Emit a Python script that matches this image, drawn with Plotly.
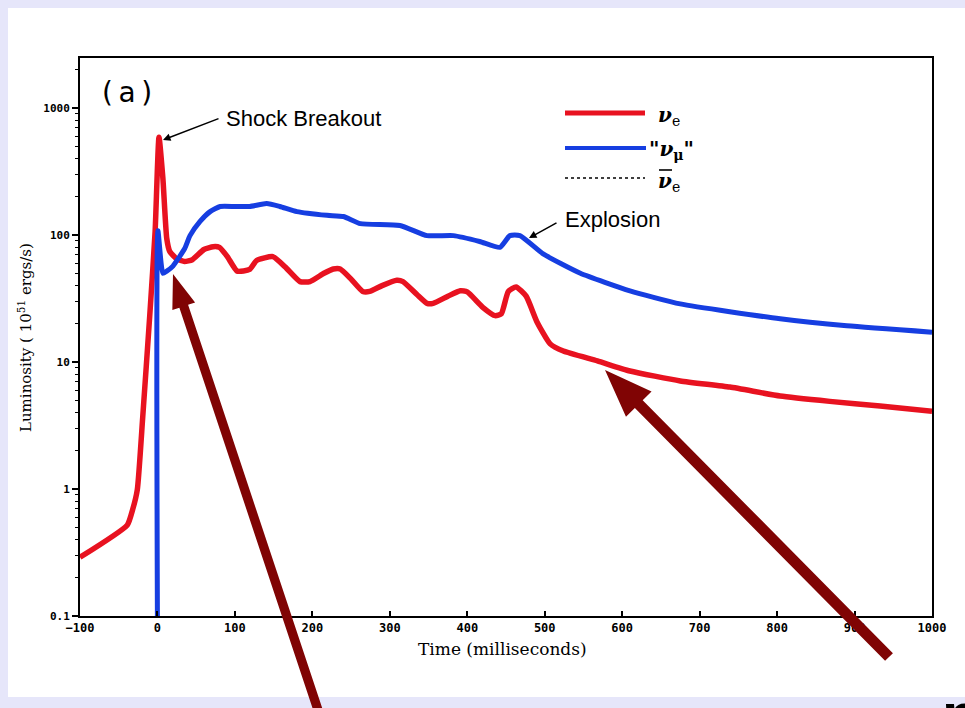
import math
import plotly.graph_objects as go

# ---------------- data ----------------
nue_t = [-100, -39, -32, -26, -19, -10, -3, 2, 7, 12, 16, 25, 35, 45, 60, 72, 80, 90, 103,
         119, 128, 149, 165, 184, 197, 215, 227, 236, 250, 265, 274, 290, 309, 317, 335,
         348, 356, 375, 391, 400, 420, 436, 444, 453, 463, 476, 490, 507, 524, 568,
         610, 675, 739, 804, 868, 933, 1000]
nue_L = [0.29, 0.52, 0.69, 0.99, 3.7, 23, 107, 590, 280, 94, 74, 65, 62, 64, 77, 81, 80, 68, 52,
         53.6, 63, 67.6, 56, 43, 43, 50, 54, 54, 45, 36, 36, 40, 44, 43, 34,
         29, 29, 33, 36.4, 35.7, 27, 23.2, 24, 36, 39, 33, 20.7, 13.9, 12.2, 10.2,
         8.5, 7.1, 6.35, 5.4, 4.9, 4.5, 4.1]

numu_t = [0, 0.6, 7, 12, 20, 35, 42, 55, 68, 81, 100, 119, 141, 158, 180, 219, 240, 262,
          313, 348, 382, 416, 442, 455, 468, 498, 546, 610, 675, 804, 890, 1000]
numu_L = [0.08, 108, 50, 52, 57, 78, 99, 128, 153, 168, 168, 168, 177, 168, 153, 143, 140, 123,
          119, 99, 99, 89, 80, 99, 99, 71, 50, 36.4, 28.7, 21.9, 19.3, 17.2]

x_ticks = [-100, 0, 100, 200, 300, 400, 500, 600, 700, 800, 900, 1000]
y_ticks = [0.1, 1, 10, 100, 1000]
y_tick_text = ["0.1", "1", "10", "100", "1000"]

RED = "rgb(232,18,32)"
BLUE = "rgb(22,62,225)"
DARKRED = "rgb(128,4,4)"

# ---------------- geometry helpers ----------------
W, H = 965, 708
L, R, T, B = 80, 932, 58, 616  # plot area in pixels


def px(xp):
    return (xp - L) / (R - L)


def py(yp):
    return (B - yp) / (B - T)


fig = go.Figure()
fig.add_trace(go.Scatter(x=nue_t, y=nue_L, mode="lines", name="νe",
                         line=dict(color=RED, width=5.5, shape="spline", smoothing=0.5),
                         showlegend=False))
fig.add_trace(go.Scatter(x=numu_t, y=numu_L, mode="lines", name="νμ",
                         line=dict(color=BLUE, width=5, shape="spline", smoothing=0.5),
                         showlegend=False))

minor_vals = [k * 10 ** e for e in range(-1, 4) for k in range(2, 10)]

fig.update_layout(
    width=W, height=H,
    margin=dict(l=L, r=W - R, t=T, b=H - B),
    paper_bgcolor="rgb(230,230,250)",
    plot_bgcolor="white",
    showlegend=False,
    xaxis=dict(range=[-100, 1000], tickvals=x_ticks, ticks="inside", ticklen=5,
               tickwidth=1.5, tickcolor="black", showline=True, linecolor="black",
               linewidth=2, mirror=True, showgrid=False, zeroline=False,
               tickfont=dict(family="DejaVu Sans Mono", size=12, color="black", weight="bold")),
    yaxis=dict(type="log", range=[-1, math.log10(2480)], tickvals=y_ticks, ticktext=y_tick_text,
               ticks="outside", ticklen=6, tickwidth=1.5, tickcolor="black",
               showline=True, linecolor="black", linewidth=2, mirror=True,
               showgrid=False, zeroline=False,
               minor=dict(tickvals=minor_vals, ticks="outside", ticklen=3,
                          tickcolor="black", tickwidth=1, showgrid=False),
               tickfont=dict(family="DejaVu Sans Mono", size=11, color="black", weight="bold")),
)

shapes = []
# white panel
shapes.append(dict(type="rect", xref="paper", yref="paper", layer="below",
                   x0=px(8), x1=px(980), y0=py(697), y1=py(8),
                   fillcolor="white", line=dict(width=0)))

# legend samples
shapes.append(dict(type="line", xref="paper", yref="paper", x0=px(565), x1=px(645),
                   y0=py(113), y1=py(113), line=dict(color=RED, width=5)))
shapes.append(dict(type="line", xref="paper", yref="paper", x0=px(565), x1=px(646),
                   y0=py(148), y1=py(148), line=dict(color=BLUE, width=4)))
shapes.append(dict(type="line", xref="paper", yref="paper", x0=px(565), x1=px(645),
                   y0=py(178), y1=py(178), line=dict(color="black", width=1.5, dash="dot")))
# bar of anti-neutrino
shapes.append(dict(type="line", xref="paper", yref="paper", x0=px(659), x1=px(672),
                   y0=py(170), y1=py(170), line=dict(color="black", width=1.6)))


def big_arrow(tip, tail, head_len, head_half, shaft_half):
    tx, ty = tip
    sx, sy = tail
    dx, dy = tx - sx, ty - sy
    n = math.hypot(dx, dy)
    ux, uy = dx / n, dy / n
    nx, ny = -uy, ux
    bx, by = tx - ux * head_len, ty - uy * head_len
    pts = [
        (sx + nx * shaft_half, sy + ny * shaft_half),
        (bx + nx * shaft_half, by + ny * shaft_half),
        (bx + nx * head_half, by + ny * head_half),
        (tx, ty),
        (bx - nx * head_half, by - ny * head_half),
        (bx - nx * shaft_half, by - ny * shaft_half),
        (sx - nx * shaft_half, sy - ny * shaft_half),
    ]
    path = "M " + " L ".join(f"{px(a):.5f},{py(b):.5f}" for a, b in pts) + " Z"
    return dict(type="path", xref="paper", yref="paper", path=path,
                fillcolor=DARKRED, line=dict(width=0), layer="above")


shapes.append(big_arrow((173, 274), (318, 710), 34, 12, 4.6))
shapes.append(big_arrow((605, 370), (889, 657), 48, 18, 5.5))

fig.update_layout(shapes=shapes)


def text_ann(x, y, text, font, xanchor="center", yanchor="middle", **kw):
    return dict(xref="paper", yref="paper", x=px(x), y=py(y), text=text, showarrow=False,
                xanchor=xanchor, yanchor=yanchor, font=font, **kw)


ann = []
ann.append(text_ann(127, 92, "(\u2009a\u2009)",
                    dict(family="DejaVu Sans", size=28, color="black")))
ann.append(text_ann(224, 118, "Shock Breakout",
                    dict(family="Liberation Sans", size=22, color="black"), xanchor="left"))
ann.append(dict(xref="paper", yref="paper", x=px(163), y=py(140), text="", showarrow=True,
                ax=57, ay=-22, arrowhead=2, arrowsize=1, arrowwidth=1.5, arrowcolor="black"))
ann.append(text_ann(563, 219, "Explosion",
                    dict(family="Liberation Sans", size=22, color="black"), xanchor="left"))
ann.append(dict(xref="paper", yref="paper", x=px(529), y=py(238), text="", showarrow=True,
                ax=29, ay=-16, arrowhead=2, arrowsize=1, arrowwidth=1.5, arrowcolor="black"))
# legend labels
ann.append(text_ann(656, 116, "<b><i>ν</i></b><sub>e</sub>",
                    dict(family="DejaVu Serif", size=20, color="black"), xanchor="left"))
ann.append(text_ann(647, 150, "<b>\"<i>ν</i><sub>μ</sub>\"</b>",
                    dict(family="DejaVu Serif", size=20, color="black"), xanchor="left"))
ann.append(text_ann(656, 182, "<b><i>ν</i></b><sub>e</sub>",
                    dict(family="DejaVu Serif", size=20, color="black"), xanchor="left"))
# axis titles
ann.append(text_ann(502, 649, "Time (milliseconds)",
                    dict(family="DejaVu Serif", size=17, color="black")))
ann.append(text_ann(25, 338, "Luminosity ( 10<sup>51</sup> ergs/s)",
                    dict(family="DejaVu Serif", size=15, color="black"), textangle=-90))
# cut-off letter at bottom right
ann.append(text_ann(940, 714, "<b>p</b>",
                    dict(family="Liberation Sans", size=60, color="black"), xanchor="left"))
fig.update_layout(annotations=ann)

fig.write_html("out.html")
